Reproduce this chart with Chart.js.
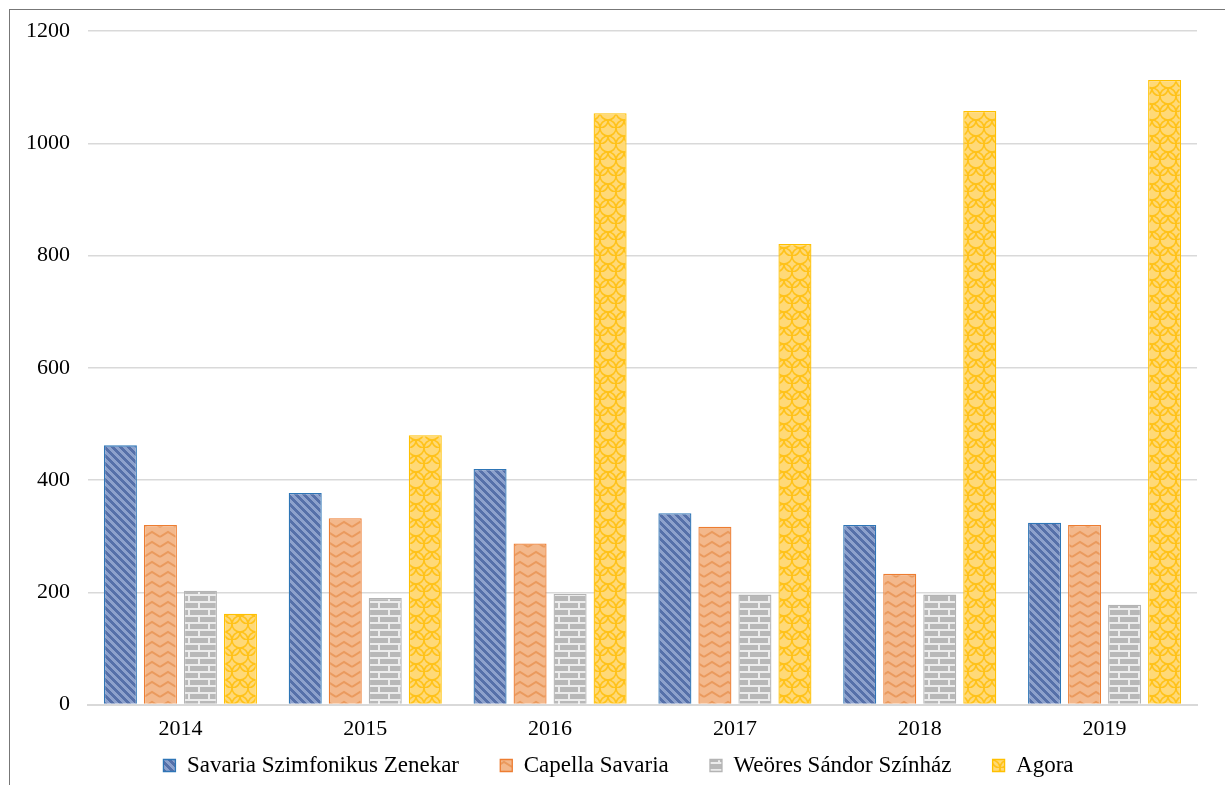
<!DOCTYPE html>
<html><head><meta charset="utf-8">
<script src="https://cdn.jsdelivr.net/npm/chart.js@4/dist/chart.umd.min.js"></script>
<style>
html,body{margin:0;padding:0;background:#fff;width:1225px;height:785px;overflow:hidden;}
#frame{position:absolute;left:9px;top:9px;width:1300px;height:900px;border-left:1px solid #777;border-top:1px solid #777;}
#wrap{position:absolute;left:0;top:0;width:1225px;height:788px;}
</style></head>
<body>
<div id="frame"></div>
<div id="wrap"><canvas id="c"></canvas></div>
<script>
const years = ['2014','2015','2016','2017','2018','2019'];
const seriesNames = ['Savaria Szimfonikus Zenekar','Capella Savaria','Weöres Sándor Színház','Agora'];
const savaria = [462, 377, 420, 341, 320, 324];
const capella = [320, 332, 287, 317, 233, 320];
const weores = [203, 190, 197, 196, 196, 178];
const agora = [162, 480, 1054, 821, 1058, 1113];
const yTicks = [0, 200, 400, 600, 800, 1000, 1200];

function makePattern(w,h,draw){
  const c=document.createElement('canvas');c.width=w;c.height=h;
  const g=c.getContext('2d');draw(g,w,h);
  return g.createPattern(c,'repeat');
}
const pBlue = makePattern(8,8,(g,w,h)=>{
  g.fillStyle='#8da1cc';g.fillRect(0,0,w,h);
  g.fillStyle='#5670a9';
  for(let y=0;y<h;y++){for(let k=0;k<4;k++){g.fillRect((y+k)%w,y,1,1);}}
});
const pOrange = makePattern(16,10,(g,w,h)=>{
  g.fillStyle='#f3b88c';g.fillRect(0,0,w,h);
  g.strokeStyle='#ea9a5e';g.lineWidth=2;
  g.beginPath();g.moveTo(0,7);g.lineTo(8,2);g.lineTo(16,7);g.stroke();
});
const pGray = makePattern(20,14,(g,w,h)=>{
  g.fillStyle='#ececec';g.fillRect(0,0,w,h);
  g.fillStyle='#b8b8b8';
  g.fillRect(0,1,18,5);
  g.fillRect(10,8,18,5);g.fillRect(-10,8,18,5);
});
const pYellow = makePattern(16,16,(g,w,h)=>{
  g.fillStyle='#ffd978';g.fillRect(0,0,w,h);
  g.strokeStyle='#ffc21a';g.lineWidth=1.6;
  g.beginPath();g.arc(0,0,8,0,Math.PI/2);g.stroke();
  g.beginPath();g.arc(16,0,8,Math.PI/2,Math.PI);g.stroke();
  g.beginPath();g.arc(8,8,8,0,Math.PI);g.stroke();
  g.beginPath();g.arc(0,16,8,-Math.PI/2,0);g.stroke();
  g.beginPath();g.arc(16,16,8,Math.PI,1.5*Math.PI);g.stroke();
});

const FONT = "'Liberation Serif', 'DejaVu Serif', serif";
const dsStyle = [
  {bg:pBlue, bd:'#2e75b6'},
  {bg:pOrange, bd:'#ed7d31'},
  {bg:pGray, bd:'#b4b4b4'},
  {bg:pYellow, bd:'#ffc000'}
];
const values = [savaria, capella, weores, agora];

const legendShift = {
  id:'legendShift',
  afterLayout(chart){ if(chart.legend){ chart.legend.left += 20; chart.legend.right += 20; } }
};

new Chart(document.getElementById('c'), {
  type:'bar',
  data:{
    labels: years,
    datasets: seriesNames.map((n,i)=>({
      label:n, data:values[i],
      backgroundColor: dsStyle[i].bg, borderColor: dsStyle[i].bd, borderWidth:1.3,
      categoryPercentage:0.866, barPercentage:0.825
    }))
  },
  plugins:[legendShift],
  options:{
    responsive:true, maintainAspectRatio:false, animation:false,
    layout:{padding:{top:18,right:28,left:0,bottom:1}},
    plugins:{
      tooltip:{enabled:false},
      legend:{position:'bottom',
        labels:{font:{family:FONT,size:23},color:'#000',boxWidth:12,boxHeight:12,padding:1,
          generateLabels(chart){
            const items = Chart.defaults.plugins.legend.labels.generateLabels(chart);
            items.forEach((it,i)=>{ if(i<items.length-1) it.text = it.text + '\u2003   '; });
            return items;
          }}},
    },
    scales:{
      x:{grid:{display:false,drawTicks:false},border:{color:'#d9d9d9',width:2},
         ticks:{font:{family:FONT,size:22},color:'#000',padding:11}},
      y:{min:0,max:1200,
         grid:{color:'#d9d9d9',lineWidth:1.5,drawTicks:false},border:{display:false},
         afterBuildTicks(s){ s.ticks = yTicks.map(v=>({value:v})); },
         ticks:{font:{family:FONT,size:22},color:'#000',padding:18,callback:(v)=>String(v)},
         afterFit(s){s.width=88;}}
    }
  }
});
</script>
</body></html>
